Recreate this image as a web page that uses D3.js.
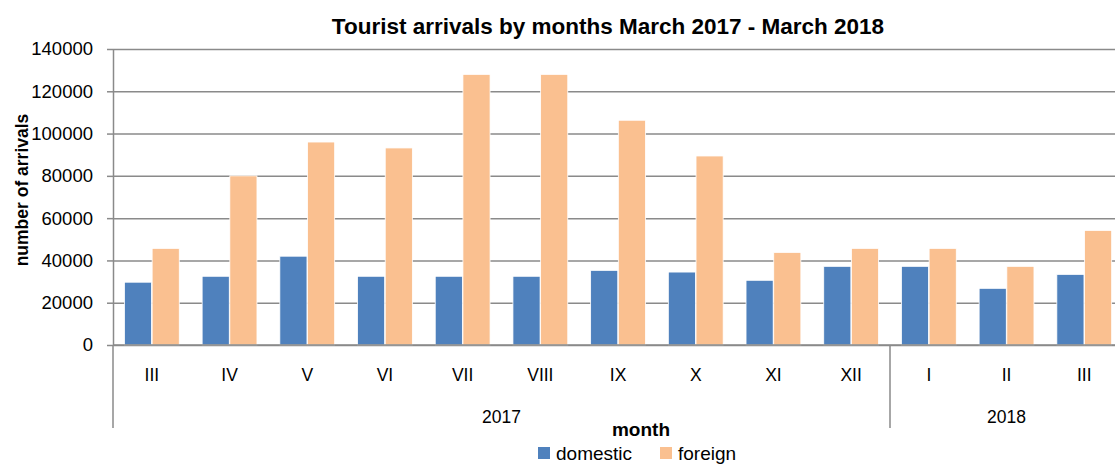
<!DOCTYPE html>
<html>
<head>
<meta charset="utf-8">
<script src="https://cdn.jsdelivr.net/npm/d3@7"></script>
<style>
  body { margin: 0; background: #fff; }
  text { font-family: "Liberation Sans", Arial, sans-serif; fill: #000; }
</style>
</head>
<body>
<div id="container"></div>
<script>
/* CONSTANTS AND GLOBALS */
const width = 1115,
  height = 464,
  margin = { top: 49, left: 113, bottom: 119 };

/* DATA */
const months = ["III", "IV", "V", "VI", "VII", "VIII", "IX", "X", "XI", "XII", "I", "II", "III "];
const monthYears = ["2017", "2017", "2017", "2017", "2017", "2017", "2017", "2017", "2017", "2017", "2018", "2018", "2018"];
const domestic = [29700, 32500, 42000, 32500, 32500, 32500, 35300, 34500, 30600, 37200, 37200, 26800, 33400];
const foreign = [45700, 80000, 96000, 93200, 128000, 128000, 106300, 89400, 43800, 45700, 45700, 37200, 54200];
const series = ["domestic", "foreign"];
const seriesColors = ["#4F81BD", "#FAC090"];
const yTicks = [0, 20000, 40000, 60000, 80000, 100000, 120000, 140000];

const rows = months.map((m, i) => ({ month: m, year: monthYears[i], domestic: domestic[i], foreign: foreign[i] }));
const years = Array.from(d3.group(rows, d => d.year), ([year, list]) => ({ year, first: list[0].month, last: list[list.length - 1].month }));

/* SVG */
const svg = d3.select("#container")
  .append("svg")
  .attr("width", width)
  .attr("height", height);

// SCALES
const step = 77.7;
const x0 = d3.scaleBand()
  .domain(months)
  .range([margin.left, margin.left + step * months.length])
  .paddingInner(0.28)
  .paddingOuter(0.14);

const x1 = d3.scaleBand()
  .domain(series)
  .range([0, x0.bandwidth()])
  .padding(0.02);

const color = d3.scaleOrdinal().domain(series).range(seriesColors);

const yBase = height - margin.bottom;
const y = d3.scaleLinear()
  .domain([0, 140000])
  .range([yBase, margin.top]);

// GRIDLINES
svg.append("g")
  .attr("transform", `translate(${margin.left},0)`)
  .call(d3.axisLeft(y).tickValues(yTicks).tickSize(-(width - margin.left)).tickFormat(""))
  .call(g => g.select(".domain").remove())
  .call(g => g.selectAll("line").attr("stroke", "#8a8a8a").attr("stroke-width", 1.5));

// Y AXIS
svg.append("g")
  .attr("transform", `translate(${margin.left},0)`)
  .call(d3.axisLeft(y).tickValues(yTicks).tickSize(6).tickSizeOuter(0).tickPadding(14).tickFormat(d3.format("d")))
  .call(g => g.select(".domain").attr("stroke", "#8a8a8a").attr("stroke-width", 1.5))
  .call(g => g.selectAll("line").attr("stroke", "#8a8a8a").attr("stroke-width", 1.5))
  .call(g => g.selectAll("text").attr("font-size", 18.5).attr("font-family", "Liberation Sans"));

// BARS
svg.append("g")
  .selectAll("g")
  .data(rows)
  .join("g")
  .attr("transform", d => `translate(${x0(d.month)},0)`)
  .selectAll("rect")
  .data(d => series.map(s => ({ key: s, value: d[s] })))
  .join("rect")
  .attr("x", d => x1(d.key))
  .attr("width", x1.bandwidth())
  .attr("y", d => y(d.value))
  .attr("height", d => yBase - y(d.value))
  .attr("fill", d => color(d.key))
  .attr("stroke", "#fff")
  .attr("stroke-width", 0.8);

// X AXIS baseline
svg.append("line")
  .attr("x1", margin.left).attr("x2", width)
  .attr("y1", yBase).attr("y2", yBase)
  .attr("stroke", "#8a8a8a").attr("stroke-width", 1.5);

// MONTH LABELS
svg.append("g")
  .selectAll("text")
  .data(rows)
  .join("text")
  .attr("x", d => x0(d.month) + x0.bandwidth() / 2)
  .attr("y", yBase + 36)
  .attr("text-anchor", "middle")
  .attr("font-size", 17.5)
  .text(d => d.month.trim());

// YEAR GROUPS
const yearStart = d => x0(d.first) - x0.step() * x0.paddingInner() / 2;
const yearEnd = d => x0(d.last) + x0.bandwidth() + x0.step() * x0.paddingInner() / 2;

svg.append("g")
  .selectAll("line")
  .data(years)
  .join("line")
  .attr("x1", d => yearStart(d)).attr("x2", d => yearStart(d))
  .attr("y1", yBase).attr("y2", yBase + 83)
  .attr("stroke", "#8a8a8a").attr("stroke-width", 1.5);

// the 2018 group is cut by the right edge, so its label sits in the visible part
svg.append("g")
  .selectAll("text")
  .data(years)
  .join("text")
  .attr("x", d => (yearStart(d) + Math.min(yearEnd(d), width + 33)) / 2)
  .attr("y", yBase + 78)
  .attr("text-anchor", "middle")
  .attr("font-size", 17.5)
  .text(d => d.year);

// TITLE
svg.append("text")
  .attr("x", 608)
  .attr("y", 34)
  .attr("text-anchor", "middle")
  .attr("font-size", 22.5)
  .attr("font-weight", "bold")
  .text("Tourist arrivals by months March 2017 - March 2018");

// AXIS TITLES
svg.append("text")
  .attr("transform", `translate(28,190) rotate(-90)`)
  .attr("text-anchor", "middle")
  .attr("font-size", 17.5)
  .attr("font-weight", "bold")
  .text("number of arrivals");

svg.append("text")
  .attr("x", 641)
  .attr("y", 436)
  .attr("text-anchor", "middle")
  .attr("font-size", 19)
  .attr("font-weight", "bold")
  .text("month");

// LEGEND
const legend = svg.append("g")
  .selectAll("g")
  .data(series)
  .join("g")
  .attr("transform", (d, i) => `translate(${[538, 660][i]},447)`);

legend.append("rect")
  .attr("width", 12).attr("height", 12)
  .attr("fill", d => color(d));

legend.append("text")
  .attr("x", 18)
  .attr("y", 13)
  .attr("font-size", 19)
  .text(d => d);
</script>
</body>
</html>
